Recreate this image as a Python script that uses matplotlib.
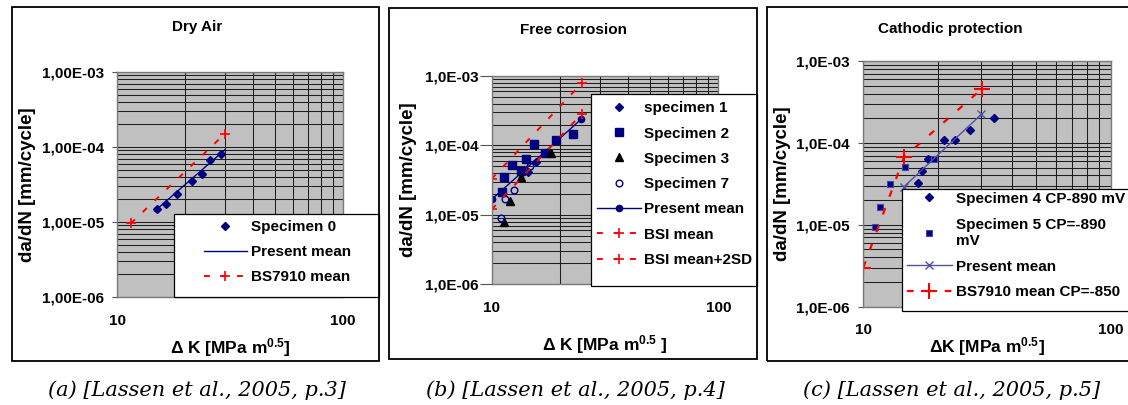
"""Fatigue crack growth rate curves: dry air, free corrosion, cathodic protection."""
import matplotlib

matplotlib.use("Agg")
import matplotlib.pyplot as plt
from matplotlib.patches import Rectangle
from matplotlib.ticker import FixedFormatter, FixedLocator, LogLocator, NullFormatter

W, H = 1128, 405

# shared axis setup
X_TICKS = [10, 100]
X_TICKLABELS = ["10", "100"]
Y_TICKS = [1e-6, 1e-5, 1e-4, 1e-3]
Y_TICKLABELS_A = ["1,00E-06", "1,00E-05", "1,00E-04", "1,00E-03"]
Y_TICKLABELS_BC = ["1,0E-06", "1,0E-05", "1,0E-04", "1,0E-03"]

# (a) dry air
spec0_dk = [15.0, 16.4, 18.5, 21.5, 23.7, 25.9, 28.9]
spec0_dadn = [1.47e-5, 1.72e-5, 2.33e-5, 3.56e-5, 4.37e-5, 6.79e-5, 8.0e-5]
mean_a_dk = [14.7, 30.0]
mean_a_dadn = [1.40e-5, 9.15e-5]
bs_a_dk = [11.5, 30.0]
bs_a_dadn = [9.55e-6, 1.5e-4]

# (b) free corrosion
spec1_dk = [14.4, 15.7]
spec1_dadn = [4.1e-5, 5.8e-5]
spec2_dk = [11.1, 11.3, 12.3, 13.4, 14.1, 15.4, 17.2, 19.2, 22.9]
spec2_dadn = [2.11e-5, 3.54e-5, 5.17e-5, 4.32e-5, 6.43e-5, 1.05e-4, 7.77e-5, 1.20e-4, 1.44e-4]
spec3_dk = [11.3, 12.0, 13.4, 18.2]
spec3_dadn = [7.8e-6, 1.58e-5, 3.54e-5, 7.7e-5]
spec7_dk = [11.0, 11.5, 12.5, 14.7]
spec7_dadn = [8.9e-6, 1.69e-5, 2.28e-5, 5.1e-5]
mean_b_dk = [10.0, 24.8]
mean_b_dadn = [1.67e-5, 2.38e-4]
bsi_mean_dk = [10.0, 25.0]
bsi_mean_dadn = [1.2e-5, 2.86e-4]
bsi_2sd_dk = [10.0, 25.1]
bsi_2sd_dadn = [3.31e-5, 8.0e-4]

# (c) cathodic protection
spec4_dk = [16.7, 17.3, 18.2, 21.1, 23.5, 27.0, 33.8]
spec4_dadn = [3.24e-5, 4.5e-5, 6.4e-5, 1.08e-4, 1.08e-4, 1.43e-4, 2.03e-4]
spec5_dk = [11.1, 11.65, 12.8, 14.75, 19.3]
spec5_dadn = [9.3e-6, 1.66e-5, 3.12e-5, 5.08e-5, 6.4e-5]
mean_c_dk = [14.6, 30.0]
mean_c_dadn = [2.92e-5, 2.23e-4]
bs_c_dk = [10.0, 14.6, 30.1]
bs_c_dadn = [3.0e-6, 6.67e-5, 4.55e-4]

NAVY = "#000080"
RED = "#ff0000"
DASH = (0, (3, 5.5))

plt.rcParams["font.family"] = ["Liberation Sans", "DejaVu Sans"]
plt.rcParams["font.weight"] = "bold"
plt.rcParams["axes.labelweight"] = "bold"
plt.rcParams["mathtext.fontset"] = "custom"
plt.rcParams["mathtext.rm"] = "Liberation Sans:bold"
plt.rcParams["mathtext.it"] = "Liberation Sans:bold"
plt.rcParams["mathtext.bf"] = "Liberation Sans:bold"

fig = plt.figure(figsize=(W / 100, H / 100), dpi=100)


def px_rect(left, top, right, bottom):
    return [left / W, 1 - bottom / H, (right - left) / W, (bottom - top) / H]


def box(left, top, right, bottom, **kw):
    x, y, w, h = px_rect(left, top, right, bottom)
    fig.add_artist(Rectangle((x, y), w, h, transform=fig.transFigure, **kw))


def make_axes(rect, yticklabels, tick_len, tick_pad, xlabel, xlabel_y, ylabel_x):
    ax = fig.add_axes(px_rect(*rect))
    ax.set_xscale("log")
    ax.set_yscale("log")
    ax.set_xlim(10, 100)
    ax.set_ylim(1e-6, 1e-3)
    ax.set_facecolor("#c0c0c0")
    ax.xaxis.set_major_locator(FixedLocator(X_TICKS))
    ax.xaxis.set_major_formatter(FixedFormatter(X_TICKLABELS))
    ax.yaxis.set_major_locator(FixedLocator(Y_TICKS))
    ax.yaxis.set_major_formatter(FixedFormatter(yticklabels))
    for axis in (ax.xaxis, ax.yaxis):
        axis.set_minor_locator(LogLocator(base=10, subs=range(2, 10)))
        axis.set_minor_formatter(NullFormatter())
    ax.grid(True, which="both", color="#1e1e1e", lw=0.75)
    ax.set_axisbelow(True)
    for sp in ax.spines.values():
        sp.set_color("#7a7a7a")
        sp.set_linewidth(1.0)
    ax.tick_params(axis="x", which="both", length=0, pad=12, labelsize=11)
    ax.tick_params(axis="y", which="minor", length=0)
    ax.tick_params(axis="y", which="major", length=tick_len, pad=tick_pad,
                   width=0.8, color="#555555", labelsize=11)
    ax.set_xlabel(xlabel, fontsize=12.5)
    ax.xaxis.set_label_coords(0.5, xlabel_y)
    ax.xaxis.label.set_va("center")
    ax.set_ylabel("da/dN [mm/cycle]", fontsize=13.5)
    ax.yaxis.set_label_coords(ylabel_x, 0.5)
    ax.yaxis.label.set_va("center")
    return ax


def caption(x, text):
    fig.text(x / W, 1 - 390 / H, text, ha="center", va="center", fontsize=15,
             family="DejaVu Serif", style="italic", weight="normal")


# ---- (a) dry air
box(12.3, 7, 379, 361, fill=False, ec="black", lw=1.3, zorder=3)
fig.text(197 / W, 1 - 27 / H, "Dry Air", ha="center", va="center", fontsize=11)
ax = make_axes((117, 72, 343, 297), Y_TICKLABELS_A, 3.4, 6.0,
               r"Δ K [MPa m$^{0.5}$]", -51 / 225, -89 / 226)
h0, = ax.plot(spec0_dk, spec0_dadn, ls="none", marker="D", ms=4.5, color=NAVY)
h1, = ax.plot(mean_a_dk, mean_a_dadn, color=NAVY, lw=1.0)
h2, = ax.plot(bs_a_dk, bs_a_dadn, color=RED, lw=1.4, ls=DASH, marker="+", ms=7, mew=1.2)
box(174, 214, 379, 297, fc="white", ec="black", lw=0.9, zorder=2)
fig.legend([h0, h1, h2], ["Specimen 0", "Present mean", "BS7910 mean"],
           loc="upper left", bbox_to_anchor=(204 / W, 1 - 220.5 / H), frameon=False,
           borderpad=0, borderaxespad=0, handlelength=2.81, handletextpad=0.27,
           labelspacing=0.71, fontsize=11)
caption(197, "(a) [Lassen et al., 2005, p.3]")

# ---- (b) free corrosion
box(389.3, 8.3, 756.7, 359.3, fill=False, ec="black", lw=1.3, zorder=3)
fig.text(574 / W, 1 - 30 / H, "Free corrosion", ha="center", va="center", fontsize=11)
ax = make_axes((491.7, 76, 718.3, 284.3), Y_TICKLABELS_BC, 8.4, 1.0,
               r"Δ K [MPa m$^{0.5}$ ]", -60.7 / 208.3, -83.4 / 226.6)
g1, = ax.plot(spec1_dk, spec1_dadn, ls="none", marker="D", ms=4.2, color=NAVY)
g2, = ax.plot(spec2_dk, spec2_dadn, ls="none", marker="s", ms=5.2, color=NAVY)
g3, = ax.plot(spec3_dk, spec3_dadn, ls="none", marker="^", ms=5.2, color="black")
g7, = ax.plot(spec7_dk, spec7_dadn, ls="none", marker="o", ms=4.8, mfc="none",
              mec=NAVY, mew=1.0)
gm, = ax.plot(mean_b_dk, mean_b_dadn, color=NAVY, lw=1.0, marker="o", ms=4.5)
gb, = ax.plot(bsi_mean_dk, bsi_mean_dadn, color=RED, lw=1.4, ls=DASH, marker="+",
              ms=7, mew=1.2)
gs, = ax.plot(bsi_2sd_dk, bsi_2sd_dadn, color=RED, lw=1.4, ls=DASH, marker="+",
              ms=7, mew=1.2)
box(591, 94, 756.7, 286, fc="white", ec="black", lw=0.9, zorder=2)
fig.legend([g1, g2, g3, g7, gm, gb, gs],
           ["specimen 1", "Specimen 2", "Specimen 3", "Specimen 7", "Present mean",
            "BSI mean", "BSI mean+2SD"],
           loc="upper left", bbox_to_anchor=(597 / W, 1 - 101.2 / H), frameon=False,
           borderpad=0, borderaxespad=0, handlelength=2.88, handletextpad=0.18,
           labelspacing=0.74, fontsize=11)
caption(575, "(b) [Lassen et al., 2005, p.4]")

# ---- (c) cathodic protection
box(766.7, 7.3, 1135, 360.7, fill=False, ec="black", lw=1.3, zorder=3)
fig.text(950.5 / W, 1 - 28.5 / H, "Cathodic protection", ha="center", va="center",
         fontsize=11)
ax = make_axes((863.3, 61, 1110.7, 306.7), Y_TICKLABELS_BC, 3.6, 6.5,
               r"ΔK [MPa m$^{0.5}$]", -40 / 245.7, -80.6 / 247.4)
c4, = ax.plot(spec4_dk, spec4_dadn, ls="none", marker="D", ms=4.5, color=NAVY)
c5, = ax.plot(spec5_dk, spec5_dadn, ls="none", marker="s", ms=4.5, mfc=NAVY,
              mec="#4848a8", mew=0.8)
cm, = ax.plot(mean_c_dk, mean_c_dadn, color="#5050a8", lw=1.0, marker="x", ms=6,
              mew=1.0)
cb, = ax.plot(bs_c_dk, bs_c_dadn, color=RED, lw=1.6, ls=DASH, marker="+", ms=11,
              mew=1.5)
box(901.7, 189, 1135, 311, fc="white", ec="black", lw=0.9, zorder=2)
fig.legend([c4, c5, cm, cb],
           ["Specimen 4 CP-890 mV", "Specimen 5 CP=-890\nmV", "Present mean",
            "BS7910 mean CP=-850"],
           loc="upper left", bbox_to_anchor=(906.7 / W, 1 - 191.8 / H), frameon=False,
           borderpad=0, borderaxespad=0, handlelength=2.97, handletextpad=0.27,
           labelspacing=0.77, fontsize=11)
caption(951.7, "(c) [Lassen et al., 2005, p.5]")

fig.savefig("out.png", dpi=100)
